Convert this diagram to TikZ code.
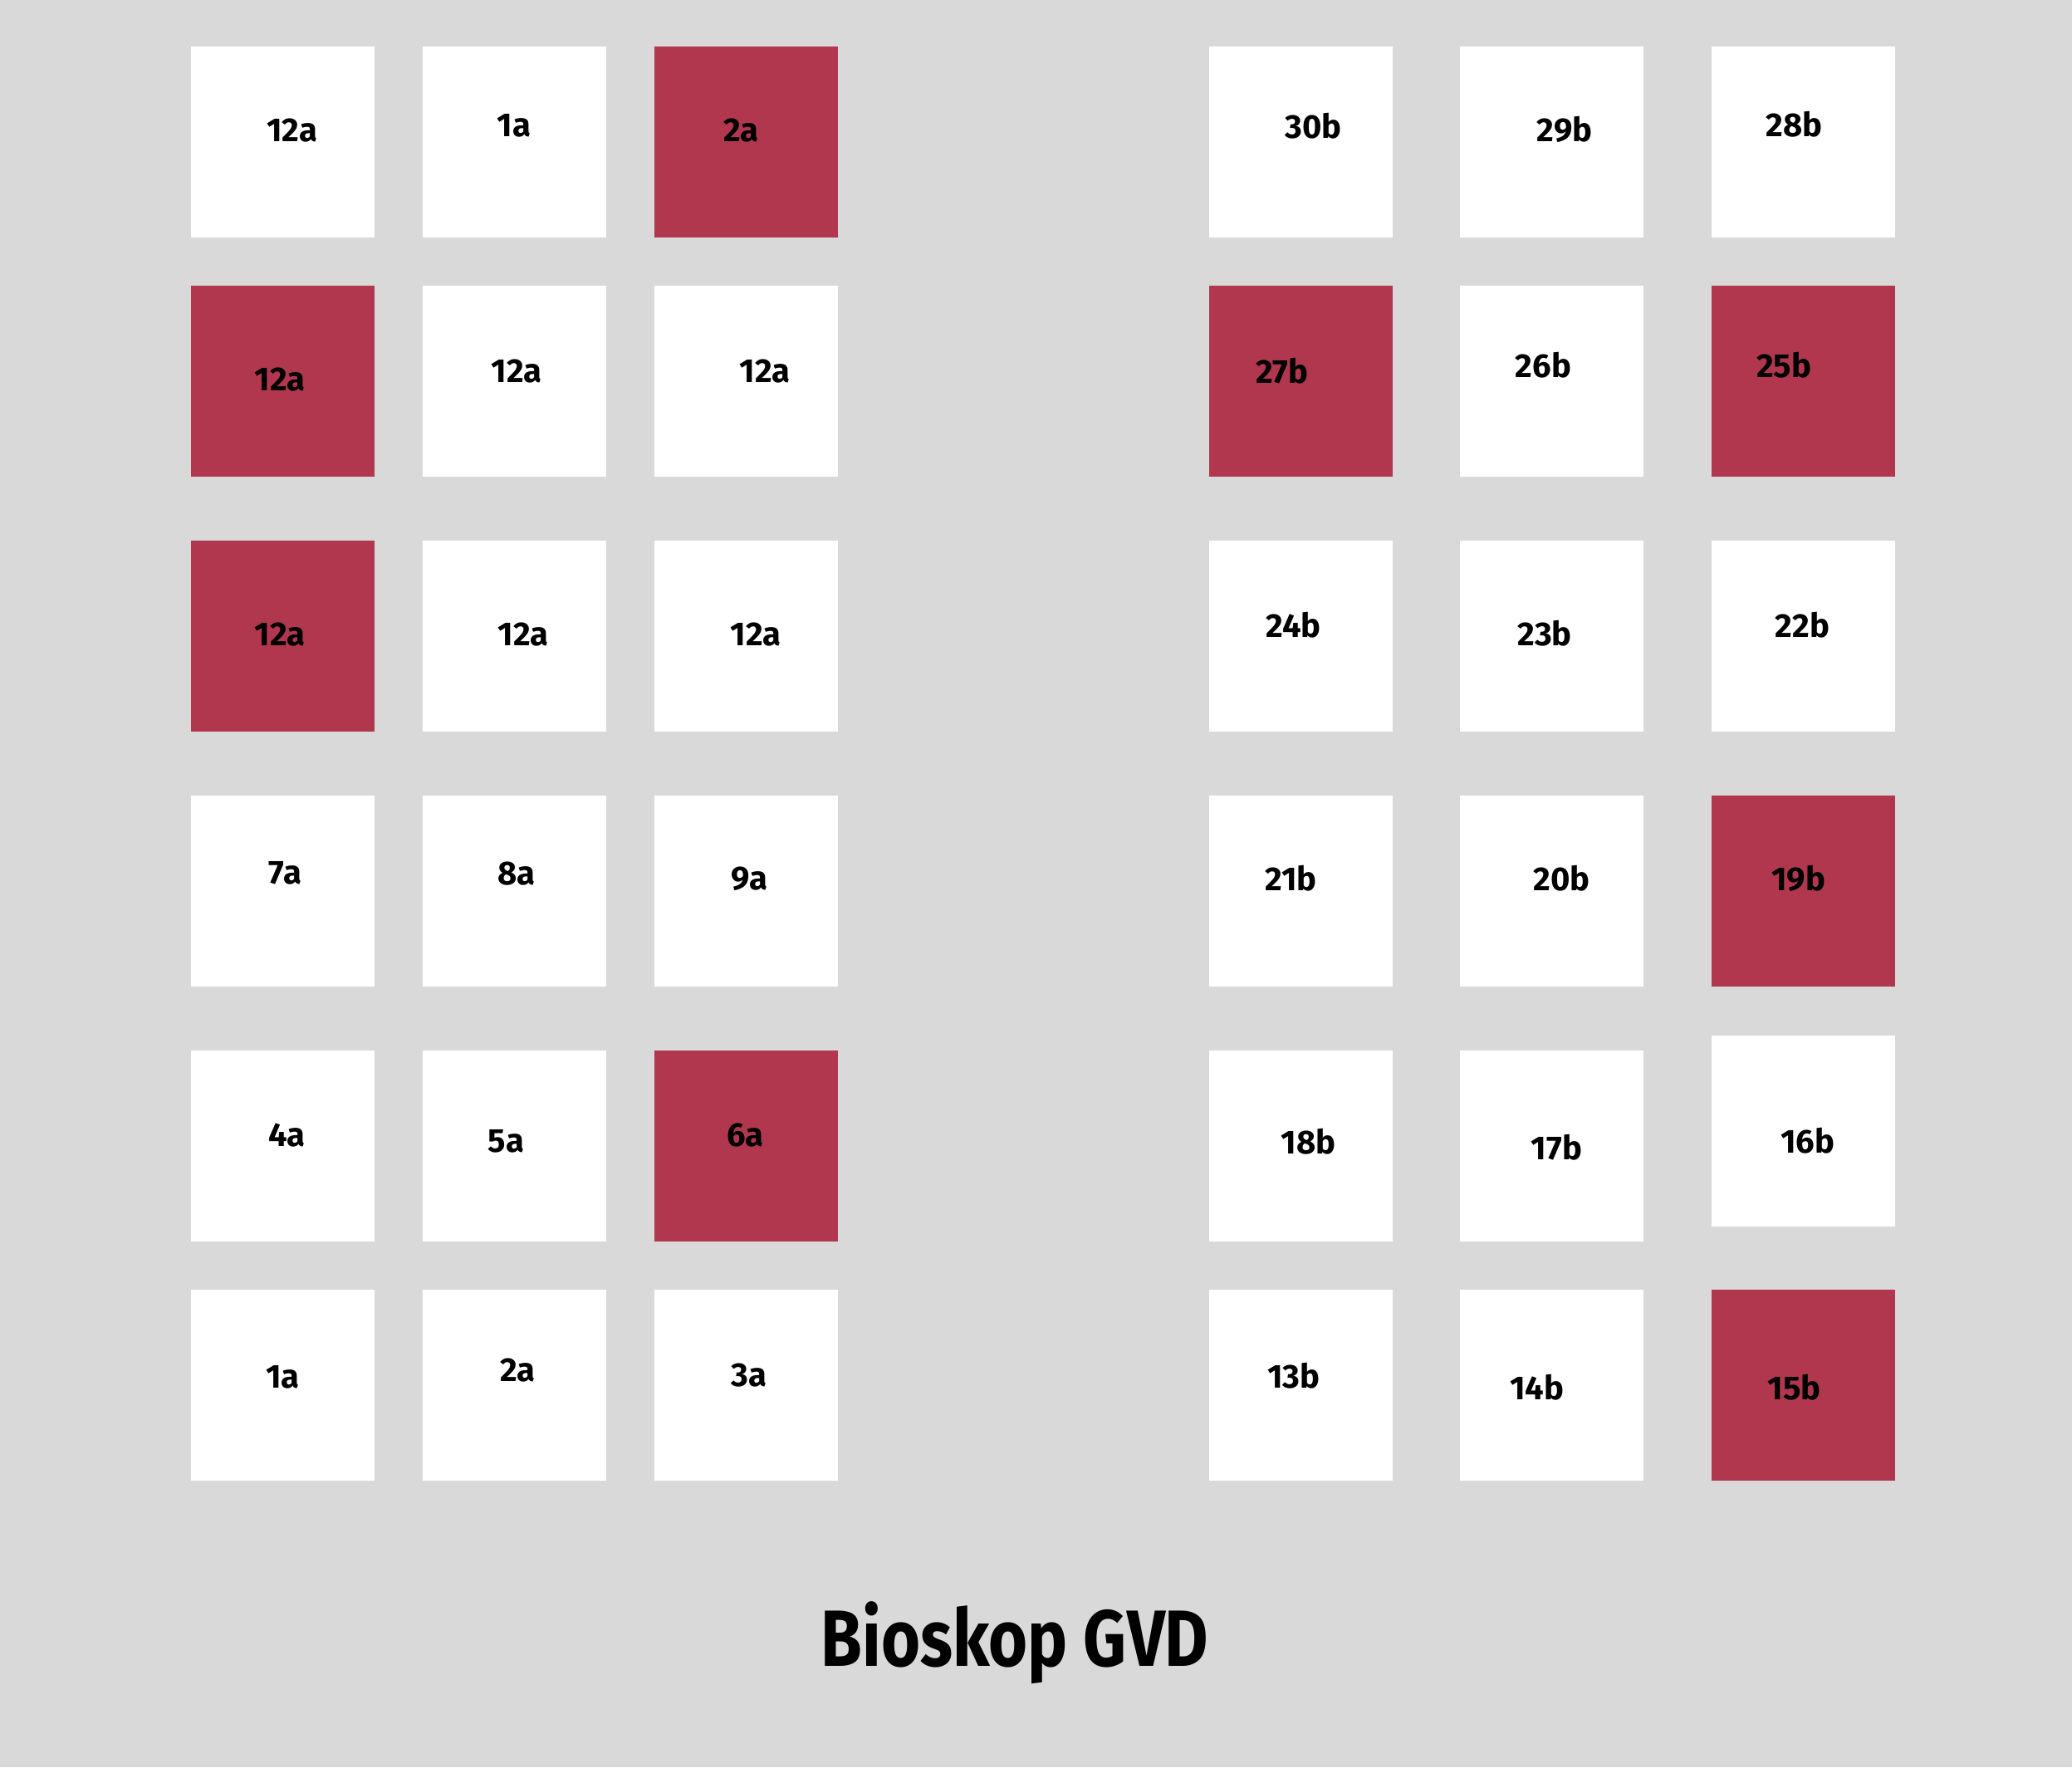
\documentclass[tikz,border=0pt]{standalone}
\usepackage{fontspec}
\setmainfont{Fira Sans}
\definecolor{bg}{HTML}{D9D9D9}
\definecolor{seatred}{HTML}{B0374E}
\tikzset{
  seat/.style={rectangle, fill=white, draw=none, minimum width=221pt, minimum height=230pt, inner sep=0pt, anchor=north west},
  taken/.style={seat, fill=seatred},
  lab/.style={font=\fontsize{40}{40}\selectfont\bfseries, text=black, inner sep=0pt},
  titletext/.style={font=\fontsize{96}{96}\selectfont\bfseries, text=black, inner sep=0pt, xscale=0.84}
}
\begin{document}
\begin{tikzpicture}[x=1.5912pt,y=-1.5912pt]
\fill[bg] (0,0) rectangle (1568,1337.4);
\useasboundingbox (0,0) rectangle (1568,1337.4);
% left block
\node[seat]  (a11) at (144.5,35) {};
\node[seat]  (a12) at (319.9,35) {};
\node[taken] (a13) at (495.2,35) {};
\node[taken] (a21) at (144.5,216) {};
\node[seat]  (a22) at (319.9,216) {};
\node[seat]  (a23) at (495.2,216) {};
\node[taken] (a31) at (144.5,409) {};
\node[seat]  (a32) at (319.9,409) {};
\node[seat]  (a33) at (495.2,409) {};
\node[seat]  (a41) at (144.5,602) {};
\node[seat]  (a42) at (319.9,602) {};
\node[seat]  (a43) at (495.2,602) {};
\node[seat]  (a51) at (144.5,795) {};
\node[seat]  (a52) at (319.9,795) {};
\node[taken] (a53) at (495.2,795) {};
\node[seat]  (a61) at (144.5,976) {};
\node[seat]  (a62) at (319.9,976) {};
\node[seat]  (a63) at (495.2,976) {};
% right block
\node[seat]  (b11) at (915,35) {};
\node[seat]  (b12) at (1104.8,35) {};
\node[seat]  (b13) at (1295.3,35) {};
\node[taken] (b21) at (915,216) {};
\node[seat]  (b22) at (1104.8,216) {};
\node[taken] (b23) at (1295.3,216) {};
\node[seat]  (b31) at (915,409) {};
\node[seat]  (b32) at (1104.8,409) {};
\node[seat]  (b33) at (1295.3,409) {};
\node[seat]  (b41) at (915,602) {};
\node[seat]  (b42) at (1104.8,602) {};
\node[taken] (b43) at (1295.3,602) {};
\node[seat]  (b51) at (915,795) {};
\node[seat]  (b52) at (1104.8,795) {};
\node[seat]  (b53) at (1295.3,783.7) {};
\node[seat]  (b61) at (915,976) {};
\node[seat]  (b62) at (1104.8,976) {};
\node[taken] (b63) at (1295,976) {};
% labels left
\node[lab] (la11) at (221,99) {12a};
\node[lab] (la12) at (389,95) {1a};
\node[lab] (la13) at (561,99) {2a};
\node[lab] (la21) at (212,287) {12a};
\node[lab] (la22) at (391,281) {12a};
\node[lab] (la23) at (579,281) {12a};
\node[lab] (la31) at (212,480) {12a};
\node[lab] (la32) at (396,480) {12a};
\node[lab] (la33) at (572,480) {12a};
\node[lab] (la41) at (216,661) {7a};
\node[lab] (la42) at (391,661) {8a};
\node[lab] (la43) at (567,665) {9a};
\node[lab] (la51) at (217,859) {4a};
\node[lab] (la52) at (383,864) {5a};
\node[lab] (la53) at (564,859) {6a};
\node[lab] (la61) at (214,1042) {1a};
\node[lab] (la62) at (392,1037) {2a};
\node[lab] (la63) at (567,1041) {3a};
% labels right
\node[lab] (lb11) at (994,95) {30b};
\node[lab] (lb12) at (1184,98) {29b};
\node[lab] (lb13) at (1358,94) {28b};
\node[lab] (lb21) at (970,281) {27b};
\node[lab] (lb22) at (1168,276) {26b};
\node[lab] (lb23) at (1350,276) {25b};
\node[lab] (lb31) at (979,473) {24b};
\node[lab] (lb32) at (1169,479) {23b};
\node[lab] (lb33) at (1364,473) {22b};
\node[lab] (lb41) at (977,665) {21b};
\node[lab] (lb42) at (1182,665) {20b};
\node[lab] (lb43) at (1361,665) {19b};
\node[lab] (lb51) at (990,864) {18b};
\node[lab] (lb52) at (1178,868) {17b};
\node[lab] (lb53) at (1368,863) {16b};
\node[lab] (lb61) at (979,1041) {13b};
\node[lab] (lb62) at (1163,1050) {14b};
\node[lab] (lb63) at (1358,1050) {15b};
% title
\node[titletext] (title) at (768,1243) {Bioskop GVD};
\end{tikzpicture}
\end{document}
